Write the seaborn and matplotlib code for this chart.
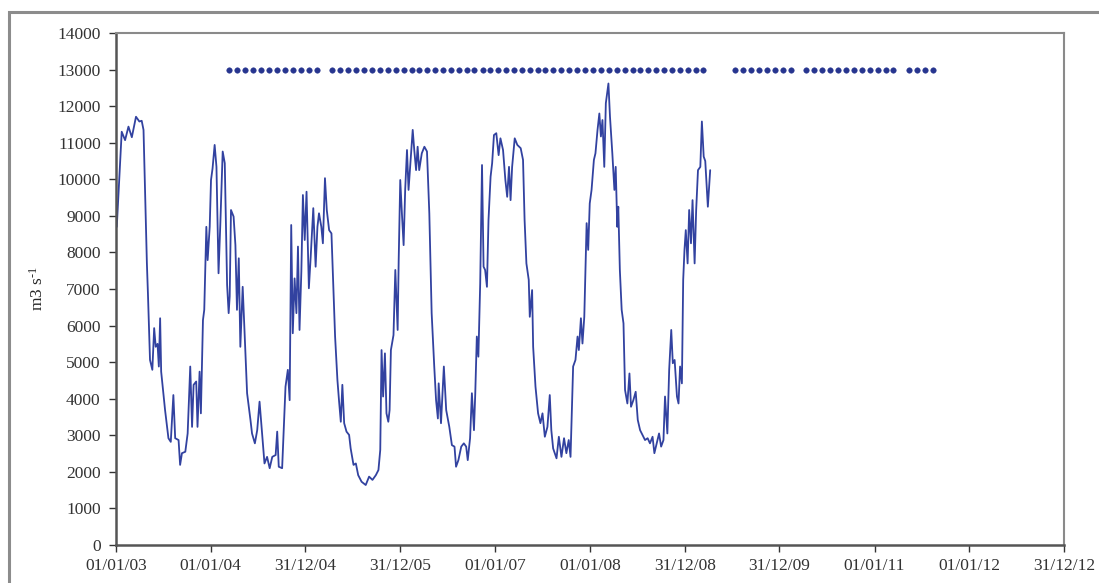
import matplotlib
matplotlib.use("Agg")
import matplotlib.pyplot as plt
import matplotlib.dates as mdates
from matplotlib.patches import Rectangle
import seaborn as sns
import pandas as pd
import numpy as np

# ---------------- data ----------------
start_date = "2003-01-01"
# discharge series: days since 01/01/03 and flow (m3 s-1)
flow_day = [3, 22, 35, 48, 61, 77, 90, 99, 106, 119, 123, 131, 140, 147, 153, 160, 165, 170, 174,
            189, 202, 211, 221, 228, 241, 247, 254, 267, 276, 286, 293, 299, 309, 314, 322, 327,
            335, 340, 348, 353, 361, 366, 372, 380, 387, 395, 402, 411, 419, 428, 434, 438, 443,
            453, 460, 466, 473, 479, 488, 499, 505, 518, 524, 535, 544, 553, 563, 572, 582, 592,
            602, 615, 621, 627, 640, 647, 653, 662, 669, 675, 681, 688, 695, 701, 707, 714, 720,
            727, 734, 743, 750, 760, 769, 776, 782, 791, 797, 805, 812, 821, 830, 840, 844, 853,
            859, 866, 872, 879, 888, 898, 904, 915, 924, 933, 946, 962, 975, 988, 1001, 1011,
            1018, 1023, 1029, 1036, 1042, 1049, 1054, 1059, 1069, 1076, 1085, 1089, 1095, 1102,
            1108, 1114, 1121, 1127, 1134, 1143, 1149, 1156, 1162, 1168, 1178, 1188, 1198, 1207,
            1216, 1226, 1233, 1240, 1243, 1252, 1263, 1272, 1284, 1294, 1304, 1310, 1319, 1330,
            1340, 1349, 1355, 1364, 1371, 1379, 1384, 1390, 1396, 1403, 1410, 1416, 1422, 1429,
            1435, 1443, 1449, 1456, 1465, 1474, 1481, 1491, 1500, 1507, 1514, 1520, 1526, 1536,
            1546, 1559, 1568, 1574, 1581, 1590, 1594, 1603, 1607, 1616, 1626, 1635, 1643, 1652,
            1662, 1671, 1677, 1684, 1697, 1706, 1716, 1726, 1735, 1744, 1751, 1761, 1770, 1778,
            1783, 1791, 1797, 1804, 1813, 1819, 1825, 1832, 1841, 1847, 1855, 1862, 1868, 1874,
            1881, 1887, 1897, 1903, 1912, 1920, 1925, 1931, 1935, 1941, 1948, 1955, 1961, 1970,
            1978, 1984, 1993, 2002, 2010, 2019, 2028, 2038, 2048, 2057, 2067, 2074, 2083, 2092,
            2100, 2109, 2115, 2124, 2131, 2139, 2145, 2152, 2161, 2167, 2173, 2180, 2185, 2190,
            2195, 2202, 2208, 2215, 2221, 2229, 2235, 2242, 2251, 2257, 2264, 2270, 2280, 2289]
flow_val = [8700, 11300, 11070, 11440, 11150, 11710, 11580, 11600, 11350, 7700, 6880, 5060, 4790,
            5930, 5420, 5500, 4880, 6200, 4740, 3690, 2920, 2820, 4100, 2920, 2870, 2190, 2510,
            2550, 3050, 4880, 3230, 4380, 4470, 3230, 4740, 3600, 6150, 6430, 8700, 7790, 8700,
            9980, 10300, 10940, 10340, 7430, 8800, 10760, 10440, 7110, 6340, 6800, 9160, 8980,
            8200, 6430, 7840, 5420, 7060, 5150, 4150, 3420, 3050, 2780, 3140, 3920, 3050, 2230,
            2410, 2100, 2410, 2460, 3100, 2140, 2100, 3280, 4330, 4790, 3960, 8750, 5790, 7290,
            6340, 8160, 5880, 7470, 9570, 8340, 9660, 7020, 7880, 9210, 7610, 8700, 9070, 8700,
            8250, 10030, 9160, 8610, 8520, 6520, 5700, 4510, 3960, 3370, 4380, 3330, 3100, 3010,
            2640, 2190, 2230, 1910, 1730, 1640, 1870, 1780, 1910, 2050, 2600, 5330, 4060, 5240,
            3600, 3370, 3690, 5330, 5740, 7520, 5880, 7790, 9980, 8980, 8200, 9710, 10800, 9710,
            10440, 11350, 10800, 10250, 10890, 10250, 10710, 10890, 10760, 9070, 6340, 4880, 3960,
            3460, 4420, 3330, 4880, 3690, 3230, 2730, 2690, 2140, 2320, 2690, 2780, 2690, 2320,
            2920, 4150, 3140, 4150, 5700, 5150, 7150, 10390, 7610, 7520, 7060, 8890, 10070, 10440,
            11210, 11260, 10660, 11120, 10800, 9980, 9520, 10340, 9430, 10340, 11120, 10940, 10850,
            10530, 8890, 7700, 7250, 6240, 6970, 5420, 4330, 3600, 3330, 3600, 2960, 3230, 4100,
            3140, 2640, 2370, 2960, 2410, 2920, 2510, 2870, 2410, 4880, 5060, 5700, 5330, 6200,
            5510, 6240, 8800, 8070, 9340, 9710, 10530, 10710, 11350, 11800, 11170, 11620, 10340,
            12080, 12620, 11710, 10710, 9710, 10340, 8700, 9250, 7520, 6430, 6060, 4240, 3870,
            4690, 3780, 3960, 4190, 3420, 3140, 3010, 2870, 2920, 2780, 2960, 2510, 2780, 3050,
            2690, 2870, 4060, 3050, 4790, 5880, 4970, 5060, 4060, 3870, 4880, 4420, 7250, 8070,
            8610, 7700, 9160, 8250, 9430, 7700, 9160, 10250, 10340, 11580, 10620, 10500, 9250,
            10250]

# sampling campaigns (monthly, shown as markers at a fixed level)
campaign_start = ["2004-03", "2005-04", "2009-07", "2010-04", "2011-05"]
campaign_end = ["2005-02", "2009-03", "2010-02", "2011-03", "2011-08"]
campaign_level = 13000

tick_dates = ["2003-01-01", "2004-01-01", "2004-12-31", "2005-12-31", "2007-01-01",
              "2008-01-01", "2008-12-31", "2009-12-31", "2011-01-01", "2012-01-01",
              "2012-12-31"]
y_ticks = list(range(0, 14001, 1000))
y_label = "m3 s$^{\\text{-}1}$"

# ---------------- build frames ----------------
t0 = pd.Timestamp(start_date)
flow_df = pd.DataFrame({"date": t0 + pd.to_timedelta(flow_day, unit="D"), "flow": flow_val})

samp_dates = []
for s, e in zip(campaign_start, campaign_end):
    samp_dates.extend(pd.date_range(s + "-01", e + "-01", freq="MS") + pd.Timedelta(days=12))
samp_df = pd.DataFrame({"date": samp_dates, "level": [campaign_level] * len(samp_dates)})

# ---------------- plot ----------------
sns.set_style("white")
plt.rcParams["font.family"] = ["Liberation Serif", "DejaVu Serif"]
plt.rcParams["mathtext.fontset"] = "custom"
plt.rcParams["mathtext.rm"] = "Liberation Serif"
plt.rcParams["mathtext.it"] = "Liberation Serif"

fig = plt.figure(figsize=(10.99, 5.83), dpi=100)
ax = fig.add_axes([116 / 1099, 38 / 583, 948 / 1099, 512 / 583])

line_color = "#3242A0"
dot_color = "#27358F"

sns.lineplot(data=flow_df, x="date", y="flow", ax=ax, color=line_color, linewidth=1.3)
sns.scatterplot(data=samp_df, x="date", y="level", ax=ax, color=dot_color, s=16,
                edgecolor=dot_color, linewidth=0.3, zorder=3)

ax.set_xlim(pd.Timestamp(tick_dates[0]), pd.Timestamp(tick_dates[-1]))
ax.set_ylim(0, 14000)
ax.set_yticks(y_ticks)
ax.set_yticklabels([str(v) for v in y_ticks])
ax.set_xticks([pd.Timestamp(d) for d in tick_dates])
ax.xaxis.set_major_formatter(mdates.DateFormatter("%d/%m/%y"))

ax.set_xlabel("")
ax.set_ylabel(y_label, fontsize=12.5, labelpad=8)
ax.tick_params(axis="both", which="major", labelsize=12.5, colors="#333333",
               direction="out", length=5, width=1, left=True, bottom=True)
ax.tick_params(axis="y", pad=6)
ax.tick_params(axis="x", pad=4)

for side in ["left", "bottom"]:
    ax.spines[side].set_color("#555555")
    ax.spines[side].set_linewidth(1.8)
for side in ["top", "right"]:
    ax.spines[side].set_color("#8a8a8a")
    ax.spines[side].set_linewidth(1.5)

# outer frame of the figure (clipped on right/bottom in the original)
fig.patches.append(Rectangle((9 / 1099, -0.1), 1.2, (583 - 12) / 583 + 0.1,
                             transform=fig.transFigure, fill=False,
                             edgecolor="#8c8c8c", linewidth=2.2))

fig.savefig("out.png", dpi=100)
